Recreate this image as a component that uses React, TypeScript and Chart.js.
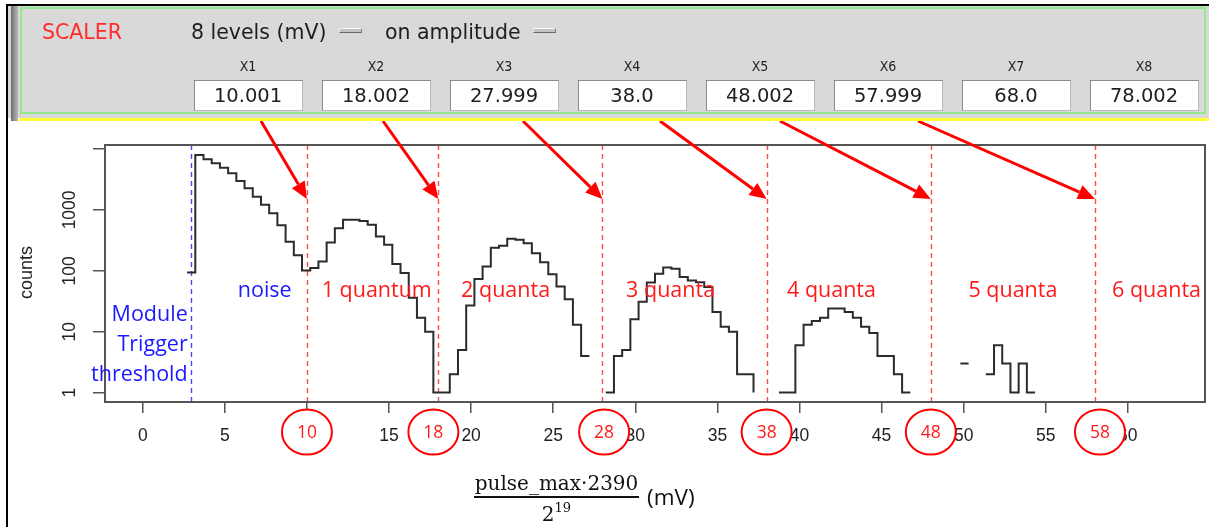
import React, { useEffect, useRef } from "react";
import { Chart, registerables } from "chart.js";

Chart.register(...registerables);

// ---- histogram data (pulse amplitude in mV, counts per 0.5 mV bin) ----
const BIN_WIDTH = 0.5;

// first step edge of each contiguous run of non-empty bins
const RUN_STARTS = [2.7, 28.2, 38.75, 49.8, 51.35];

// counts at each step edge; noise, 1 quantum and 2 quanta form one run
const COUNTS_NOISE_TO_2Q = [
  94, 7970, 6770, 5830, 4930, 3990, 2990, 2270, 1650, 1210, 880, 560, 300, 180,
  101, 111, 142, 291, 500, 686, 686, 660, 568, 365, 268, 129, 92, 36, 17, 10,
  1, 1, 2, 5, 27, 73, 118, 240, 257, 335, 323, 284, 195, 138, 88, 55, 34, 13, 4, 4,
];
const COUNTS_3Q = [1, 4, 5, 16, 31, 64, 89, 113, 108, 79, 69, 65, 54, 21, 12, 10, 2, 2, 1];
const COUNTS_4Q = [1, 1, 6, 13, 15, 17, 24, 24, 21, 17, 12, 9.5, 4, 4, 2, 1, 1];
const COUNTS_5Q_A = [3, 3];
const COUNTS_5Q_B = [2, 6, 3, 1, 3, 1, 1];
const RUNS = [COUNTS_NOISE_TO_2Q, COUNTS_3Q, COUNTS_4Q, COUNTS_5Q_A, COUNTS_5Q_B];

// ---- axes ----
const X_MIN = -2.3;
const X_MAX = 64.7;
const Y_MIN = 0.712;
const Y_MAX = 11640;
const X_TICKS = [0, 5, 10, 15, 20, 25, 30, 35, 40, 45, 50, 55, 60];
const Y_TICKS = [1, 10, 100, 1000, 10000];
const Y_TICK_LABELS = ["1", "10", "100", "1000", ""];

// ---- thresholds and annotations ----
const TRIGGER_THRESHOLD = 2.92;
const SCALER_LEVELS = [10, 18, 28, 38, 48, 58];
const LEVEL_CIRCLE_X = [10, 17.7, 28.1, 38, 48, 58.3];
const ZONE_LABELS = ["1 quantum", "2 quanta", "3 quanta", "4 quanta", "5 quanta", "6 quanta"];
const ZONE_LABEL_X = [14.25, 22.1, 32.15, 41.95, 53, 61.75];
const NOISE_LABEL_X = 7.43;
const TRIGGER_LABEL_LINES = ["Module", "Trigger", "threshold"];

// ---- scaler control panel ----
const FIELD_NAMES = ["X1", "X2", "X3", "X4", "X5", "X6", "X7", "X8"];
const FIELD_VALUES = ["10.001", "18.002", "27.999", "38.0", "48.002", "57.999", "68.0", "78.002"];
const ARROW_TAIL_PX = [261, 383, 523, 660, 780, 918];

const W = 1209;
const H = 527;

const ANNOT_FONT = "'Open Sans', 'Noto Sans', sans-serif";
const AXIS_FONT = "'Liberation Sans', Arial, sans-serif";
const PANEL_FONT = "'DejaVu Sans', sans-serif";

function buildPoints() {
  const pts: { x: number; y: number | null }[] = [];
  RUNS.forEach((run, r) => {
    if (r > 0) pts.push({ x: RUN_STARTS[r] - 0.01, y: null });
    run.forEach((c, i) => pts.push({ x: RUN_STARTS[r] + i * BIN_WIDTH, y: c }));
  });
  return pts;
}

const overlayPlugin = {
  id: "scalerOverlay",
  beforeDatasetsDraw(chart: any) {
    const { ctx, chartArea: a, scales } = chart;
    const x = scales.x;
    ctx.save();
    ctx.lineWidth = 1.4;
    ctx.setLineDash([5, 4]);
    const vline = (v: number, color: string) => {
      const px = Math.round(x.getPixelForValue(v)) + 0.5;
      ctx.strokeStyle = color;
      ctx.beginPath();
      ctx.moveTo(px, a.top);
      ctx.lineTo(px, a.bottom);
      ctx.stroke();
    };
    vline(TRIGGER_THRESHOLD, "#4646ff");
    SCALER_LEVELS.forEach((v) => vline(v, "#ff4a4a"));
    ctx.restore();
  },
  afterDraw(chart: any) {
    const { ctx, chartArea: a, scales } = chart;
    const x = scales.x;
    const y = scales.y;
    ctx.save();

    // plot frame
    ctx.strokeStyle = "#555";
    ctx.lineWidth = 2;
    ctx.setLineDash([]);
    ctx.strokeRect(a.left, a.top, a.right - a.left, a.bottom - a.top);

    // y tick labels, written along the axis
    ctx.fillStyle = "#222";
    ctx.font = `17.5px ${AXIS_FONT}`;
    ctx.textAlign = "center";
    ctx.textBaseline = "middle";
    Y_TICKS.forEach((v, i) => {
      if (!Y_TICK_LABELS[i]) return;
      ctx.save();
      ctx.translate(70, y.getPixelForValue(v));
      ctx.rotate(-Math.PI / 2);
      ctx.fillText(Y_TICK_LABELS[i], 0, 0);
      ctx.restore();
    });
    ctx.save();
    ctx.font = `18px ${AXIS_FONT}`;
    ctx.translate(27.5, 272.5);
    ctx.rotate(-Math.PI / 2);
    ctx.fillText("counts", 0, 0);
    ctx.restore();

    // region labels
    ctx.font = `21.5px ${ANNOT_FONT}`;
    ctx.textBaseline = "alphabetic";
    ctx.textAlign = "center";
    ctx.fillStyle = "#1a1aff";
    ctx.fillText("noise", x.getPixelForValue(NOISE_LABEL_X), 297);
    ctx.textAlign = "right";
    const tx = x.getPixelForValue(TRIGGER_THRESHOLD) - 3;
    TRIGGER_LABEL_LINES.forEach((t, i) => ctx.fillText(t, tx, 321 + i * 30));
    ctx.textAlign = "center";
    ctx.fillStyle = "#ff1a1a";
    ZONE_LABELS.forEach((t, i) => ctx.fillText(t, x.getPixelForValue(ZONE_LABEL_X[i]), 297));

    // arrows from scaler fields to the threshold lines
    ctx.strokeStyle = "#ff0000";
    ctx.fillStyle = "#ff0000";
    ctx.lineWidth = 3;
    SCALER_LEVELS.forEach((v, i) => {
      const x0 = ARROW_TAIL_PX[i];
      const y0 = 121;
      const x1 = x.getPixelForValue(v);
      const y1 = 199;
      const ang = Math.atan2(y1 - y0, x1 - x0);
      const L = 17;
      const hw = 7.5;
      const bx = x1 - L * Math.cos(ang);
      const by = y1 - L * Math.sin(ang);
      ctx.beginPath();
      ctx.moveTo(x0, y0);
      ctx.lineTo(bx, by);
      ctx.stroke();
      ctx.beginPath();
      ctx.moveTo(x1, y1);
      ctx.lineTo(bx + hw * Math.sin(ang), by - hw * Math.cos(ang));
      ctx.lineTo(bx - hw * Math.sin(ang), by + hw * Math.cos(ang));
      ctx.closePath();
      ctx.fill();
    });

    // circled level values on the x axis
    ctx.lineWidth = 2;
    ctx.font = `17.5px ${ANNOT_FONT}`;
    ctx.textBaseline = "middle";
    SCALER_LEVELS.forEach((v, i) => {
      const cx = x.getPixelForValue(LEVEL_CIRCLE_X[i]);
      const cy = 432;
      ctx.beginPath();
      ctx.ellipse(cx, cy, 25, 22.5, 0, 0, Math.PI * 2);
      ctx.fillStyle = "#ffffff";
      ctx.fill();
      ctx.strokeStyle = "#ff0000";
      ctx.stroke();
      ctx.fillStyle = "#ff1a1a";
      ctx.fillText(String(v), cx, cy + 1);
    });

    // x axis title as a fraction
    ctx.fillStyle = "#111";
    ctx.textBaseline = "alphabetic";
    ctx.textAlign = "center";
    ctx.font = `20px 'DejaVu Serif', serif`;
    const fx = 556.5;
    ctx.fillText("pulse_max·2390", fx, 490);
    ctx.fillRect(474, 496, 165, 2);
    ctx.textAlign = "left";
    const w2 = ctx.measureText("2").width;
    ctx.font = `13px 'DejaVu Serif', serif`;
    const wExp = ctx.measureText("19").width;
    const sx = fx - (w2 + wExp) / 2;
    ctx.font = `20px 'DejaVu Serif', serif`;
    ctx.fillText("2", sx, 521);
    ctx.font = `13px 'DejaVu Serif', serif`;
    ctx.fillText("19", sx + w2, 512);
    ctx.font = `22.5px ${ANNOT_FONT}`;
    ctx.fillText("(mV)", 647, 505);

    ctx.restore();
  },
};

function Indicator({ left }: { left: number }) {
  return (
    <div
      style={{
        position: "absolute",
        left,
        top: 28,
        width: 23,
        height: 5,
        boxSizing: "border-box",
        background: "#c2c2c2",
        borderTop: "1px solid #f6f6f6",
        borderLeft: "1px solid #f0f0f0",
        borderBottom: "1px solid #6a6a6a",
        borderRight: "1px solid #808080",
      }}
    />
  );
}

export default function App() {
  const canvasRef = useRef<HTMLCanvasElement | null>(null);

  useEffect(() => {
    if (!canvasRef.current) return;
    const chart = new Chart(canvasRef.current, {
      type: "line",
      data: {
        datasets: [
          {
            data: buildPoints() as any,
            stepped: true,
            borderColor: "#2b2b2b",
            borderWidth: 2,
            pointRadius: 0,
            fill: false,
            spanGaps: false,
          },
        ],
      },
      options: {
        animation: false,
        responsive: false,
        events: [],
        layout: { padding: { left: 0, right: 4, top: 145, bottom: 0 } },
        plugins: { legend: { display: false }, tooltip: { enabled: false } },
        scales: {
          x: {
            type: "linear",
            min: X_MIN,
            max: X_MAX,
            afterBuildTicks: (s: any) => {
              s.ticks = X_TICKS.map((v) => ({ value: v }));
            },
            afterFit: (s: any) => {
              s.height = H - 402;
            },
            grid: { drawOnChartArea: false, drawTicks: true, tickLength: 11, color: "#555", lineWidth: 1.5 },
            border: { display: false },
            ticks: {
              autoSkip: false,
              maxRotation: 0,
              padding: 13,
              color: "#222",
              font: { family: AXIS_FONT, size: 17.5 },
            },
          },
          y: {
            type: "logarithmic",
            min: Y_MIN,
            max: Y_MAX,
            afterBuildTicks: (s: any) => {
              s.ticks = Y_TICKS.map((v) => ({ value: v }));
            },
            afterFit: (s: any) => {
              s.width = 105;
            },
            grid: { drawOnChartArea: false, drawTicks: true, tickLength: 12, color: "#555", lineWidth: 1.5 },
            border: { display: false },
            ticks: { display: false },
          },
        },
      },
      plugins: [overlayPlugin],
    } as any);
    return () => chart.destroy();
  }, []);

  return (
    <div style={{ position: "absolute", left: 0, top: 0, width: W, height: H, background: "#fff", overflow: "hidden" }}>
      <canvas ref={canvasRef} width={W} height={H} style={{ position: "absolute", left: 0, top: 0 }} />

      {/* outer frame */}
      <div style={{ position: "absolute", left: 6, top: 4, width: W - 6, height: 2, background: "#000" }} />
      <div style={{ position: "absolute", left: 6, top: 4, width: 2, height: H - 4, background: "#000" }} />

      {/* scaler control panel */}
      <div style={{ position: "absolute", left: 8, top: 6, width: W - 8, height: 112, background: "#d9d9d9" }} />
      <div
        style={{
          position: "absolute",
          left: 11,
          top: 6,
          width: 7,
          height: 115,
          background: "linear-gradient(to right, #6c6c6c, #9c9c9c 60%, #b8b8b8)",
        }}
      />
      <div
        style={{
          position: "absolute",
          left: 20,
          top: 7,
          width: 1206 - 20,
          height: 107,
          boxSizing: "border-box",
          border: "2px solid #93e893",
        }}
      />
      <div style={{ position: "absolute", left: 19, top: 118, width: W - 19, height: 3, background: "#ffff33" }} />

      <div
        style={{
          position: "absolute",
          left: 42,
          top: 20,
          font: `20.5px ${PANEL_FONT}`,
          lineHeight: "24px",
          color: "#ff2a2a",
          whiteSpace: "nowrap",
        }}
      >
        SCALER
      </div>
      <div
        style={{
          position: "absolute",
          left: 191,
          top: 20,
          font: `20.5px ${PANEL_FONT}`,
          lineHeight: "24px",
          color: "#1e1e1e",
          whiteSpace: "nowrap",
        }}
      >
        8 levels (mV)
      </div>
      <Indicator left={339} />
      <div
        style={{
          position: "absolute",
          left: 385,
          top: 20,
          font: `20.5px ${PANEL_FONT}`,
          lineHeight: "24px",
          color: "#1e1e1e",
          whiteSpace: "nowrap",
        }}
      >
        on amplitude
      </div>
      <Indicator left={533} />

      {FIELD_NAMES.map((name, i) => {
        const left = 193.5 + 128 * i;
        return (
          <React.Fragment key={name}>
            <div
              style={{
                position: "absolute",
                left,
                top: 58,
                width: 109,
                textAlign: "center",
                font: `14px 'DejaVu Sans Condensed', ${PANEL_FONT}`,
                lineHeight: "16px",
                color: "#1e1e1e",
              }}
            >
              {name}
            </div>
            <div
              style={{
                position: "absolute",
                left,
                top: 80,
                width: 109,
                height: 31,
                boxSizing: "border-box",
                background: "#fff",
                border: "1px solid #b8b8b8",
                borderTopColor: "#8c8c8c",
                borderLeftColor: "#8c8c8c",
                textAlign: "center",
                font: `19.5px ${PANEL_FONT}`,
                lineHeight: "29px",
                color: "#1e1e1e",
              }}
            >
              {FIELD_VALUES[i]}
            </div>
          </React.Fragment>
        );
      })}
    </div>
  );
}
